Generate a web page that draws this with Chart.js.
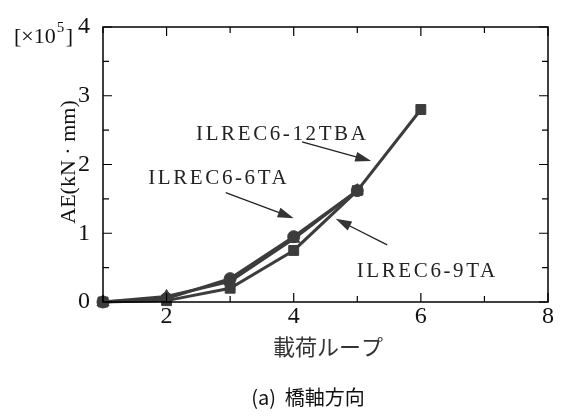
<!DOCTYPE html>
<html>
<head>
<meta charset="utf-8">
<script src="https://cdn.jsdelivr.net/npm/chart.js@4"></script>
<style>
  html, body { margin: 0; padding: 0; background: #fff; }
  #wrap { width: 573px; height: 417px; position: relative; }
</style>
</head>
<body>
<div id="wrap"><canvas id="myChart" width="573" height="417"></canvas></div>
<script>
// data (AE in units of 10^5 kN・mm)
var loops = [1, 2, 3, 4, 5, 6];
var ae6TA = [0, 0.05, 0.34, 0.95, 1.62];
var ae9TA = [0, 0.08, 0.30, 0.92, 1.62];
var ae12TBA = [0, 0.02, 0.20, 0.75, 1.62, 2.80];
var xTicks = [2, 4, 6, 8];
var yTicks = [0, 1, 2, 3, 4];

function toPoints(vals) {
  return vals.map(function (v, i) { return { x: loops[i], y: v }; });
}

var markColor = '#3c3c3c';
var serif = '"Liberation Serif", "DejaVu Serif", serif';

// labels + arrows, placed in data units
var notes = [
  { text: 'ILREC6-12TBA', x: 3.82, y: 2.43, from: [4.13, 2.33], to: [5.22, 2.05] },
  { text: 'ILREC6-6TA', x: 2.82, y: 1.79, from: [2.93, 1.59], to: [4.0, 1.22] },
  { text: 'ILREC6-9TA', x: 6.10, y: 0.44, from: [5.47, 0.83], to: [4.66, 1.21] }
];

var framePlugin = {
  id: 'frame',
  afterDraw: function (chart) {
    var c = chart.ctx, a = chart.chartArea;
    var xs = chart.scales.x, ys = chart.scales.y;
    c.save();
    c.strokeStyle = '#000';
    c.lineWidth = 1.5;
    c.strokeRect(a.left, a.top, a.right - a.left, a.bottom - a.top);
    // inward ticks on all four sides
    c.lineWidth = 1.2;
    c.beginPath();
    for (var v = 1; v <= 8; v++) {
      var px = xs.getPixelForValue(v);
      var len = (v % 2 === 0) ? 9 : 6;
      c.moveTo(px, a.bottom); c.lineTo(px, a.bottom - len);
      c.moveTo(px, a.top); c.lineTo(px, a.top + len);
    }
    for (var w = 0; w <= 4; w += 0.5) {
      var py = ys.getPixelForValue(w);
      var ln = (w % 1 === 0) ? 9 : 6;
      c.moveTo(a.left, py); c.lineTo(a.left + ln, py);
      c.moveTo(a.right, py); c.lineTo(a.right - ln, py);
    }
    c.stroke();

    // annotations
    c.fillStyle = '#222';
    c.font = '21px ' + serif;
    c.letterSpacing = '2.6px';
    c.textAlign = 'center';
    c.textBaseline = 'middle';
    notes.forEach(function (n) {
      c.fillText(n.text, xs.getPixelForValue(n.x), ys.getPixelForValue(n.y));
      var x0 = xs.getPixelForValue(n.from[0]), y0 = ys.getPixelForValue(n.from[1]);
      var x1 = xs.getPixelForValue(n.to[0]), y1 = ys.getPixelForValue(n.to[1]);
      var ang = Math.atan2(y1 - y0, x1 - x0);
      c.strokeStyle = '#222';
      c.lineWidth = 1.3;
      c.beginPath();
      c.moveTo(x0, y0);
      c.lineTo(x1 - 12 * Math.cos(ang), y1 - 12 * Math.sin(ang));
      c.stroke();
      c.beginPath();
      c.moveTo(x1, y1);
      c.lineTo(x1 - 16 * Math.cos(ang) + 5 * Math.sin(ang), y1 - 16 * Math.sin(ang) - 5 * Math.cos(ang));
      c.lineTo(x1 - 16 * Math.cos(ang) - 5 * Math.sin(ang), y1 - 16 * Math.sin(ang) + 5 * Math.cos(ang));
      c.closePath();
      c.fillStyle = '#333';
      c.fill();
      c.fillStyle = '#222';
    });
    c.letterSpacing = '0px';
    c.fillStyle = '#111';

    // y-axis title, rotated
    c.save();
    c.translate(69, 162);
    c.rotate(-Math.PI / 2);
    c.font = '22px ' + serif;
    c.fillText('AE(kN · mm)', 0, 0);
    c.restore();

    // [x10^5] at top left
    c.textAlign = 'left';
    c.textBaseline = 'alphabetic';
    c.font = '22px ' + serif;
    var t1 = '[×10';
    c.fillText(t1, 14, 43);
    var w1 = c.measureText(t1).width;
    c.font = '15px ' + serif;
    c.fillText('5', 14 + w1 + 1, 32);
    c.font = '22px ' + serif;
    c.fillText(']', 14 + w1 + 10, 43);

    // x-axis title and caption
    c.textAlign = 'center';
    c.textBaseline = 'middle';
    c.fillStyle = '#333';
    c.font = '22px "Noto Sans CJK JP", sans-serif';
    c.fillText('載荷ループ', 328, 347);
    c.fillStyle = '#111';
    c.font = '20px "Noto Sans CJK JP", sans-serif';
    c.fillText('(a)  橋軸方向', 308, 397);
    c.restore();
  }
};

var ctx = document.getElementById('myChart').getContext('2d');
var myChart = new Chart(ctx, {
  type: 'line',
  data: {
    datasets: [
      {
        label: 'ILREC6-12TBA',
        data: toPoints(ae12TBA),
        borderColor: markColor,
        backgroundColor: markColor,
        borderWidth: 3,
        pointStyle: 'rect',
        pointRadius: 7,
        pointBorderWidth: 1
      },
      {
        label: 'ILREC6-9TA',
        data: toPoints(ae9TA),
        borderColor: markColor,
        backgroundColor: markColor,
        borderWidth: 3,
        pointStyle: 'triangle',
        pointRadius: 7,
        pointBorderWidth: 1
      },
      {
        label: 'ILREC6-6TA',
        data: toPoints(ae6TA),
        borderColor: markColor,
        backgroundColor: markColor,
        borderWidth: 3,
        pointStyle: 'circle',
        pointRadius: 6,
        pointBorderWidth: 1
      }
    ]
  },
  options: {
    responsive: false,
    animation: false,
    clip: false,
    layout: { padding: { top: 27, right: 25, left: 0, bottom: 0 } },
    scales: {
      x: {
        type: 'linear',
        min: 1,
        max: 8,
        afterBuildTicks: function (s) { s.ticks = xTicks.map(function (v) { return { value: v }; }); },
        afterFit: function (s) { s.height = 115; },
        grid: { display: false },
        border: { display: false },
        ticks: { color: '#111', padding: -8, font: { family: serif, size: 24 } }
      },
      y: {
        min: 0,
        max: 4,
        afterBuildTicks: function (s) { s.ticks = yTicks.map(function (v) { return { value: v }; }); },
        afterFit: function (s) { s.width = 103; },
        grid: { display: false },
        border: { display: false },
        ticks: { color: '#111', padding: 5, font: { family: serif, size: 24 } }
      }
    },
    plugins: {
      legend: { display: false },
      tooltip: { enabled: false }
    }
  },
  plugins: [framePlugin]
});
</script>
</body>
</html>
